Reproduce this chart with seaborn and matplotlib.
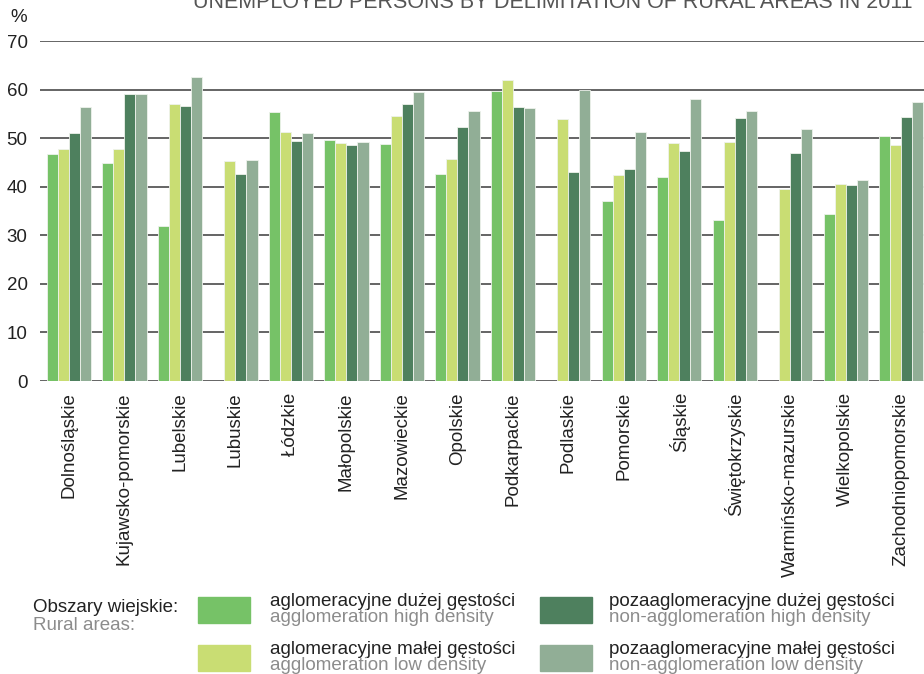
import numpy as np
import pandas as pd
import matplotlib
matplotlib.use("Agg")
import matplotlib.pyplot as plt
import matplotlib.patches as mpatches
import seaborn as sns

regions = ["Dolnośląskie", "Kujawsko-pomorskie", "Lubelskie", "Lubuskie", "Łódzkie",
           "Małopolskie", "Mazowieckie", "Opolskie", "Podkarpackie", "Podlaskie",
           "Pomorskie", "Śląskie", "Świętokrzyskie", "Warmińsko-mazurskie",
           "Wielkopolskie", "Zachodniopomorskie"]

aglo_high = [46.7, 44.9, 32.0, np.nan, 55.3, 49.6, 48.7, 42.7, 59.7, np.nan,
             37.1, 41.9, 33.1, np.nan, 34.4, 50.4]
aglo_low = [47.8, 47.8, 57.0, 45.2, 51.3, 48.9, 54.6, 45.8, 62.0, 53.9,
            42.5, 48.9, 49.3, 39.6, 40.6, 48.6]
nonaglo_high = [51.0, 59.0, 56.6, 42.7, 49.5, 48.5, 57.0, 52.2, 56.5, 43.0,
                43.6, 47.3, 54.1, 47.0, 40.4, 54.4]
nonaglo_low = [56.5, 59.1, 62.5, 45.4, 51.1, 49.2, 59.4, 55.5, 56.3, 60.0,
               51.3, 58.0, 55.6, 51.9, 41.3, 57.4]

series_pl = ["aglomeracyjne dużej gęstości", "aglomeracyjne małej gęstości",
             "pozaaglomeracyjne dużej gęstości", "pozaaglomeracyjne małej gęstości"]
series_en = ["agglomeration high density", "agglomeration low density",
             "non-agglomeration high density", "non-agglomeration low density"]
colors = ["#76c267", "#c9dd73", "#4e805e", "#91ae96"]

df = pd.DataFrame({
    "region": regions * 4,
    "series": np.repeat(series_pl, len(regions)),
    "value": aglo_high + aglo_low + nonaglo_high + nonaglo_low,
})

sns.set_style("white")
plt.rcParams["font.family"] = ["Liberation Sans", "DejaVu Sans"]
FS = 13.5

fig = plt.figure(figsize=(9.24, 6.74), dpi=100)
ax = fig.add_axes([40 / 924, 1 - 381 / 674, 1 - 40 / 924, 340 / 674])

sns.barplot(data=df, x="region", y="value", hue="series", hue_order=series_pl,
            palette=colors, order=regions, width=0.8, saturation=1,
            edgecolor="#eef2ec", linewidth=0.6, legend=False, ax=ax, zorder=3)

ax.set_ylim(0, 70)
ax.set_xlim(-0.52, 15.41)
ax.set_yticks(range(0, 80, 10))
for yv in range(0, 80, 10):
    ax.axhline(yv, color="#3a3a3a", lw=1.1, zorder=1)
for s in ax.spines.values():
    s.set_visible(False)
ax.set_xlabel("")
ax.set_ylabel("")
ax.tick_params(axis="both", length=0, labelsize=FS, colors="#222222")
ax.tick_params(axis="y", pad=9)
ax.tick_params(axis="x", pad=8)
plt.setp(ax.get_xticklabels(), rotation=90, va="top", ha="center")

fig.text(10 / 924, 1 - 18 / 674, "%", fontsize=FS, color="#222222", va="center")
# title is cropped at the top edge in the source image
fig.text(193 / 924, 1 - 2 / 674, "UNEMPLOYED PERSONS BY DELIMITATION OF RURAL AREAS IN 2011",
         fontsize=15.5, color="#555555", va="center")

# legend block
fig.text(33 / 924, 1 - 607 / 674, "Obszary wiejskie:", fontsize=FS, color="#222222", va="center")
fig.text(33 / 924, 1 - 626 / 674, "Rural areas:", fontsize=FS, color="#8c8c8c", va="center")
pos = [(198, 597, 270), (198, 645, 270), (540, 597, 609), (540, 645, 609)]
for (px, py, tx), c, pl, en in zip(pos, colors, series_pl, series_en):
    fig.patches.append(mpatches.Rectangle((px / 924, 1 - (py + 26) / 674), 52 / 924, 26 / 674,
                                          transform=fig.transFigure, color=c))
    fig.text(tx / 924, 1 - (py + 4) / 674, pl, fontsize=FS, color="#222222", va="center")
    fig.text(tx / 924, 1 - (py + 20) / 674, en, fontsize=FS, color="#8c8c8c", va="center")

fig.savefig("out.png", dpi=100)
